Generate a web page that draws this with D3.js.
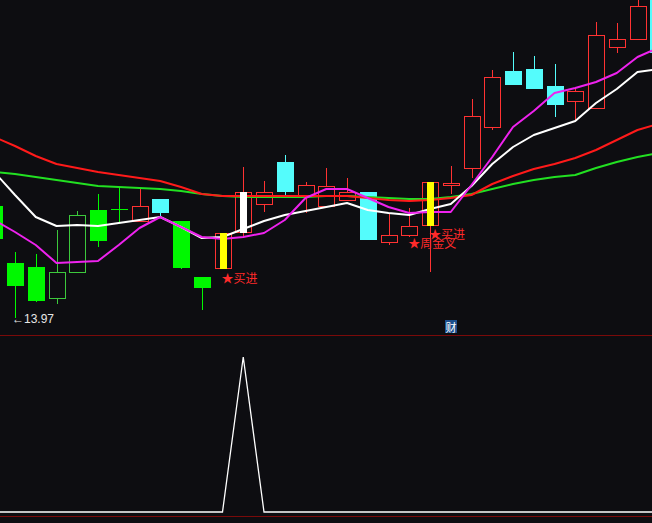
<!DOCTYPE html>
<html><head><meta charset="utf-8">
<script src="https://cdn.jsdelivr.net/npm/d3@7"></script>
<style>
html,body{margin:0;padding:0;background:#0d0d11;}
svg{display:block;}
</style></head><body>
<svg id="chart" width="652" height="523"></svg>
<script>
// ---- data ----
const open  = [16.21,15.07,14.99,14.37,14.89,16.13,16.15,15.91,16.35,15.91,14.79,14.97,15.69,16.25,17.09,16.41,16.21,16.33,16.49,15.49,15.63,15.83,16.63,16.97,17.79,18.91,18.95,18.61,18.31,18.17,19.39,19.55,20.40];
const high  = [16.37,15.29,15.25,15.73,16.11,16.45,16.59,16.55,16.35,15.91,14.79,15.67,16.99,16.71,17.23,16.69,16.97,16.77,16.49,16.07,16.17,16.69,17.01,18.35,18.93,19.29,19.21,19.05,18.59,19.89,19.87,20.39,20.50];
const low   = [15.41,13.97,14.29,14.25,14.89,15.39,15.87,15.91,15.99,14.95,14.13,14.97,15.59,16.09,16.43,16.07,16.21,16.33,15.55,15.43,15.59,14.89,16.45,16.77,17.73,18.65,18.57,17.99,17.93,18.17,19.27,19.55,19.20];
const close = [15.57,14.63,14.33,14.89,16.03,15.53,16.15,16.21,16.09,14.99,14.59,15.67,16.49,16.49,16.51,16.63,16.61,16.49,15.55,15.63,15.81,16.69,16.67,18.01,18.79,18.65,18.57,18.25,18.51,19.63,19.55,20.21,19.29];
const kind  = ["down","down","down","upG","upG","down","down","up","cyan","down","down","up","up","up","cyan","up","up","up","cyan","up","up","up","up","up","up","cyan","cyan","cyan","up","up","up","up","cyan"];
const maRed     = [17.59,17.41,17.21,17.05,16.97,16.89,16.83,16.77,16.71,16.59,16.45,16.41,16.41,16.41,16.41,16.41,16.41,16.41,16.37,16.33,16.31,16.33,16.37,16.43,16.65,16.81,16.95,17.05,17.17,17.33,17.53,17.73,17.85];
const maGreen   = [16.89,16.85,16.79,16.73,16.67,16.61,16.59,16.57,16.55,16.51,16.45,16.41,16.39,16.39,16.39,16.39,16.41,16.41,16.39,16.37,16.35,16.35,16.39,16.45,16.55,16.65,16.73,16.79,16.83,16.97,17.09,17.19,17.27];
const maWhite   = [16.89,16.43,15.99,15.81,15.83,15.81,15.87,15.93,15.99,15.79,15.57,15.59,15.75,15.91,16.03,16.11,16.19,16.27,16.13,16.07,16.03,16.15,16.25,16.61,17.05,17.39,17.63,17.77,17.91,18.27,18.55,18.89,18.95];
const maMagenta = [15.93,15.69,15.43,15.07,15.09,15.11,15.43,15.77,15.99,15.79,15.59,15.55,15.59,15.67,15.93,16.37,16.55,16.55,16.37,16.19,16.07,16.09,16.09,16.63,17.19,17.79,18.11,18.47,18.57,18.69,18.87,19.19,19.37];
const yellowMarks = [11, 21];
const whiteMarks  = [12];
const labelIdx   = [11, 21, 20];
const labelPrice = [14.79, 15.67, 15.49];
const labelText  = ["★买进", "★买进", "★周金叉"];
const signal = [0,0,0,0,0,0,0,0,0,0,0,0,1,0,0,0,0,0,0,0,0,0,0,0,0,0,0,0,0,0,0,0,0];
const tagText = "财";

// ---- drawing ----
const svg = d3.select("#chart");
const W = 652, H = 523;
svg.append("rect").attr("width", W).attr("height", H).attr("fill", "#0d0d11");

const n = open.length;
const x = d3.scaleLinear().domain([0, n - 1]).range([-5.75, 658.25]);
const y = d3.scaleLinear().domain([13.97, 20.33]).range([318, 0]);
const yLow = d3.scaleLinear().domain([0, 1]).range([512, 357]);

const colors = {up: "#ff3232", upG: "#3cc83c", down: "#00f800", cyan: "#54fcfc"};
const hollow = {up: true, upG: true, down: false, cyan: false};

const main = svg.append("g");
const cg = main.append("g").attr("shape-rendering", "crispEdges");
const half = 8;
d3.range(n).forEach(i => {
  const c = colors[kind[i]];
  const cx = Math.round(x(i));
  const top = Math.round(y(Math.max(open[i], close[i])));
  const bot = Math.round(y(Math.min(open[i], close[i])));
  const yh = Math.round(y(high[i])), yl = Math.round(y(low[i]));
  if (top === bot) {
    cg.append("line").attr("x1", cx + 0.5).attr("x2", cx + 0.5).attr("y1", yh).attr("y2", yl).attr("stroke", c);
    cg.append("line").attr("x1", cx - half).attr("x2", cx + half + 1).attr("y1", top + 0.5).attr("y2", top + 0.5).attr("stroke", c);
    return;
  }
  if (hollow[kind[i]]) {
    if (yh < top) cg.append("line").attr("x1", cx + 0.5).attr("x2", cx + 0.5).attr("y1", yh).attr("y2", top).attr("stroke", c);
    if (yl > bot) cg.append("line").attr("x1", cx + 0.5).attr("x2", cx + 0.5).attr("y1", bot).attr("y2", yl).attr("stroke", c);
    cg.append("rect").attr("x", cx - half + 0.5).attr("y", top + 0.5)
      .attr("width", 2 * half).attr("height", bot - top)
      .attr("fill", "#0d0d11").attr("stroke", c);
  } else {
    cg.append("line").attr("x1", cx + 0.5).attr("x2", cx + 0.5).attr("y1", yh).attr("y2", yl).attr("stroke", c);
    cg.append("rect").attr("x", cx - half).attr("y", top)
      .attr("width", 2 * half + 1).attr("height", bot - top + 1).attr("fill", c);
  }
});

// moving averages
const lineGen = arr => d3.line().x((d, i) => x(i)).y(d => y(d))(arr);
[[maGreen, "#22e022"], [maRed, "#ff1a1a"], [maWhite, "#ffffff"], [maMagenta, "#ee22ee"]].forEach(([arr, col]) => {
  main.append("path").attr("d", lineGen(arr)).attr("fill", "none")
    .attr("stroke", col).attr("stroke-width", 2).attr("stroke-linejoin", "round");
});

// signal bars
const mg = main.append("g").attr("shape-rendering", "crispEdges");
const markBar = (i, col) => {
  const top = Math.round(y(Math.max(open[i], close[i])));
  const bot = Math.round(y(Math.min(open[i], close[i])));
  mg.append("rect").attr("x", Math.round(x(i)) - 3).attr("y", top)
    .attr("width", 7).attr("height", bot - top + 1).attr("fill", col);
};
yellowMarks.forEach(i => markBar(i, "#ffff00"));
whiteMarks.forEach(i => markBar(i, "#ffffff"));

// text labels
labelIdx.forEach((i, k) => {
  main.append("text").attr("x", x(i) - 1).attr("y", y(labelPrice[k]))
    .attr("dominant-baseline", "central")
    .attr("font-family", "'Noto Sans CJK SC', sans-serif").attr("font-size", 12)
    .attr("fill", "#ff2a2a").text(labelText[k]);
});

// lowest-low marker
const minI = d3.minIndex(low);
main.append("text").attr("x", x(minI) - 3).attr("y", y(low[minI]) + 1)
  .attr("dominant-baseline", "central")
  .attr("font-family", "'Liberation Sans', 'DejaVu Sans', sans-serif").attr("font-size", 12)
  .attr("fill", "#e6e6e6").text("←" + d3.format(".2f")(low[minI]));

// tag box
svg.append("rect").attr("x", 445).attr("y", 320).attr("width", 12).attr("height", 13).attr("fill", "#1c4e8c");
svg.append("text").attr("x", 451).attr("y", 327).attr("text-anchor", "middle").attr("dominant-baseline", "central")
  .attr("font-family", "'Noto Sans CJK SC', sans-serif").attr("font-size", 11).attr("fill", "#ffffff").text(tagText);

// separators
svg.append("line").attr("x1", 0).attr("x2", W).attr("y1", 335.5).attr("y2", 335.5).attr("stroke", "#7a0a0a");
svg.append("line").attr("x1", 0).attr("x2", W).attr("y1", 516.5).attr("y2", 516.5).attr("stroke", "#7a0a0a");

// lower indicator
svg.append("path").attr("d", d3.line().x((d, i) => x(i)).y(d => yLow(d))(signal))
  .attr("fill", "none").attr("stroke", "#ffffff").attr("stroke-width", 1.3);
</script>
</body></html>
